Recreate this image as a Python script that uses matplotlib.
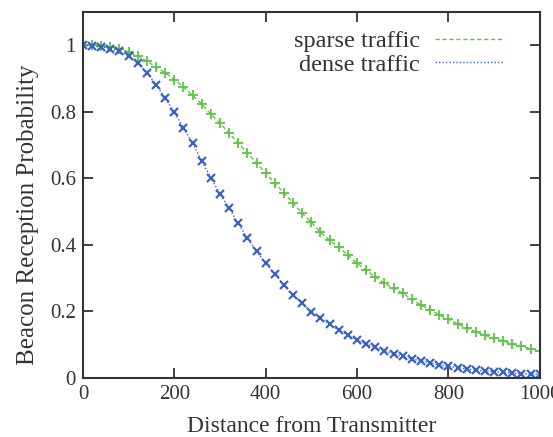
import numpy as np
import matplotlib.pyplot as plt
from matplotlib.lines import Line2D

plt.rcParams['font.family'] = ['Liberation Serif', 'DejaVu Serif']

# Distance from transmitter (m), 20 m steps
distance = np.arange(0, 1001, 20)

# Sparse traffic reception probability
sparse = [1.0, 1.0, 0.998, 0.995, 0.99, 0.98, 0.968, 0.952, 0.935, 0.917,
          0.897, 0.874, 0.850, 0.823, 0.793, 0.766, 0.736, 0.706, 0.676, 0.646,
          0.616, 0.586, 0.556, 0.526, 0.495, 0.468, 0.438, 0.414, 0.393, 0.369,
          0.345, 0.324, 0.303, 0.285, 0.270, 0.255, 0.236, 0.219, 0.205, 0.190,
          0.176, 0.163, 0.150, 0.139, 0.128, 0.120, 0.111, 0.103, 0.096, 0.088,
          0.082]

# Dense traffic reception probability
dense = [1.0, 0.998, 0.995, 0.99, 0.982, 0.967, 0.946, 0.918, 0.882, 0.842,
         0.798, 0.752, 0.706, 0.652, 0.601, 0.553, 0.511, 0.465, 0.420, 0.381,
         0.345, 0.312, 0.279, 0.249, 0.225, 0.198, 0.180, 0.162, 0.144, 0.129,
         0.114, 0.102, 0.093, 0.082, 0.073, 0.065, 0.058, 0.051, 0.045, 0.040,
         0.035, 0.031, 0.027, 0.024, 0.021, 0.019, 0.017, 0.015, 0.013, 0.012,
         0.011]

green = '#5cc545'
blue = '#3a62c4'
grey = '#333333'

fig = plt.figure(figsize=(5.53, 4.37), dpi=100)
ax = fig.add_axes([0.150, 0.135, 0.826, 0.8375])

ax.plot(distance, sparse, color=green, linestyle=(0, (3, 2)), linewidth=1,
        marker='+', markersize=6.5, markeredgewidth=1.3)
ax.plot(distance, dense, color=blue, linestyle=(0, (1, 1.5)), linewidth=1,
        marker='x', markersize=5.5, markeredgewidth=1.6)

ax.set_xlim(0, 1000)
ax.set_ylim(0, 1.1)
ax.set_xticks([0, 200, 400, 600, 800, 1000])
ax.set_yticks([0, 0.2, 0.4, 0.6, 0.8, 1])
ax.set_yticklabels(['0', '0.2', '0.4', '0.6', '0.8', '1'])
ax.tick_params(direction='in', length=7, width=1.3, top=True, right=True,
               labelsize=15, colors=grey, pad=5)
for s in ax.spines.values():
    s.set_linewidth(1.5)
    s.set_color(grey)

ax.set_xlabel('Distance from Transmitter', fontsize=17, color=grey, labelpad=9)
ax.set_ylabel('Beacon Reception Probability', fontsize=18, color=grey)
ax.yaxis.set_label_coords(-0.097, 0.445)

handles = [Line2D([], [], color=green, linestyle=(0, (3, 2)), linewidth=1),
           Line2D([], [], color=blue, linestyle=(0, (1, 1.5)), linewidth=1)]
leg = ax.legend(handles, ['sparse traffic', 'dense traffic'], loc='upper right',
                bbox_to_anchor=(0.919, 0.95), frameon=False, markerfirst=False,
                fontsize=17.5, handlelength=2.8, labelspacing=0.05,
                handletextpad=0.6, borderpad=0, borderaxespad=0)
for t in leg.get_texts():
    t.set_color(grey)

plt.savefig('out.png', dpi=100)
